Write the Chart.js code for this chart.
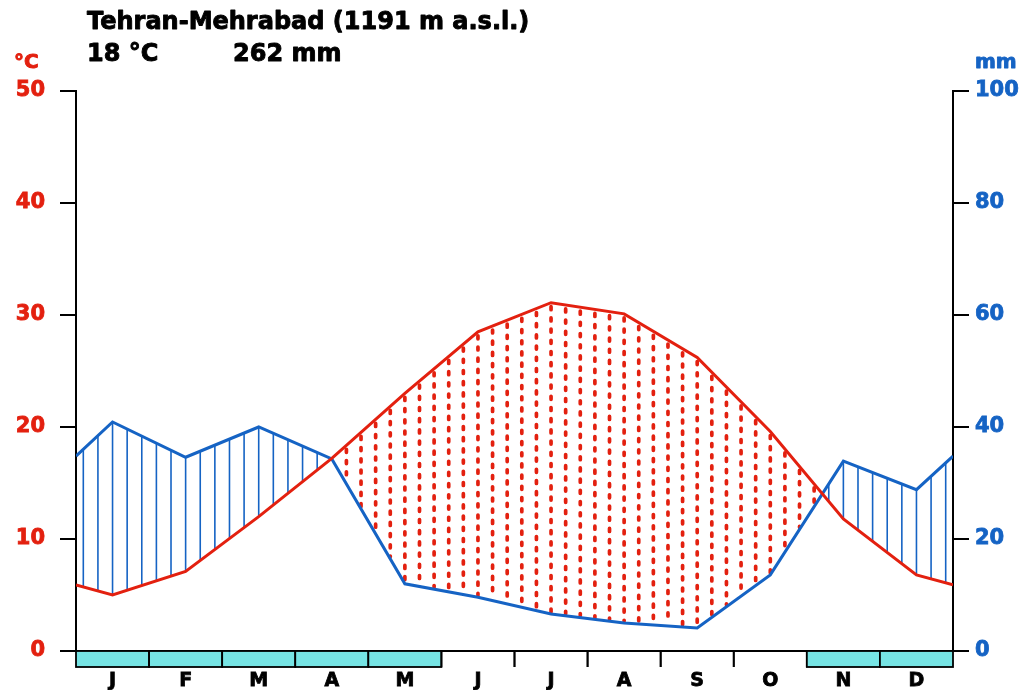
<!DOCTYPE html>
<html>
<head>
<meta charset="utf-8">
<script src="https://cdn.jsdelivr.net/npm/chart.js@4.4.1/dist/chart.umd.min.js"></script>
<style>
  html, body { margin: 0; padding: 0; background: #fff; }
  #wrap { width: 1031px; height: 690px; position: relative; }
</style>
</head>
<body>
<div id="wrap"><canvas id="climate" width="1031" height="690"></canvas></div>
<script>
// Walter–Lieth climate diagram, Tehran-Mehrabad
const months = ['J', 'F', 'M', 'A', 'M', 'J', 'J', 'A', 'S', 'O', 'N', 'D'];
const temperature = [5.0, 7.1, 12.0, 17.2, 23.0, 28.5, 31.1, 30.1, 26.2, 19.6, 11.8, 6.8];   // °C
const precipitation = [40.9, 34.6, 40.0, 34.3, 12.0, 9.6, 6.6, 5.0, 4.1, 13.6, 33.9, 28.8]; // mm
const yearEdgeTemperature = 5.9;    // value at the year boundary (Dec/Jan)
const yearEdgePrecipitation = 34.8;
const frostMonths = [1, 1, 1, 1, 1, 0, 0, 0, 0, 0, 1, 1];
const temperatureTicks = [0, 10, 20, 30, 40, 50];
const precipitationTicks = [0, 20, 40, 60, 80, 100];
const stationName = 'Tehran-Mehrabad (1191 m a.s.l.)';
const meanTemperatureText = '18 °C';
const annualPrecipitationText = '262 mm';

const RED = '#e3200f';
const BLUE = '#1563c4';
const CYAN = '#76e4e4';
const FONT = '"DejaVu Sans", Verdana, sans-serif';

function seriesWithEdges(values, edge) {
  return [{ x: 0, y: edge }]
    .concat(values.map((v, i) => ({ x: i + 0.5, y: v })))
    .concat([{ x: 12, y: edge }]);
}

// y pixel of a polyline at a given x pixel
function lineYAt(points, px) {
  for (let i = 0; i < points.length - 1; i++) {
    const a = points[i], b = points[i + 1];
    if (px >= a.x - 0.01 && px <= b.x + 0.01) {
      const t = (px - a.x) / (b.x - a.x || 1);
      return a.y + t * (b.y - a.y);
    }
  }
  return null;
}

// humid (blue lines) and arid (red dotted lines) hatching between the curves
const hatchPlugin = {
  id: 'hatch',
  beforeDatasetsDraw(chart) {
    const { ctx, scales } = chart;
    const x = scales.x;
    const tPts = chart.getDatasetMeta(0).data;
    const pPts = chart.getDatasetMeta(1).data;
    ctx.save();
    for (let k = 0; k < 60; k++) {
      const px = x.getPixelForValue(0.1 + 0.2 * k);
      const yt = lineYAt(tPts, px);
      const yp = lineYAt(pPts, px);
      if (yt === null || yp === null) continue;
      ctx.beginPath();
      if (yp < yt) {
        ctx.setLineDash([]);
        ctx.lineCap = 'butt';
        ctx.strokeStyle = BLUE;
        ctx.lineWidth = 1.6;
        ctx.moveTo(px, yp);
        ctx.lineTo(px, yt);
      } else {
        if (yp - yt < 6) continue;
        ctx.setLineDash([3, 8.2]);
        ctx.lineCap = 'round';
        ctx.lineDashOffset = -4;
        ctx.strokeStyle = RED;
        ctx.lineWidth = 3.7;
        ctx.moveTo(px, yt);
        ctx.lineTo(px, yp - 2);
      }
      ctx.stroke();
    }
    ctx.restore();
  }
};

// frost-month strip below the plot
const frostPlugin = {
  id: 'frost',
  afterDraw(chart) {
    const { ctx, scales, chartArea } = chart;
    const x = scales.x;
    const top = chartArea.bottom;
    const h = 16;
    ctx.save();
    ctx.lineWidth = 1.8;
    ctx.strokeStyle = '#000';
    months.forEach((m, i) => {
      const x0 = x.getPixelForValue(i);
      const x1 = x.getPixelForValue(i + 1);
      if (frostMonths[i]) {
        ctx.fillStyle = CYAN;
        ctx.fillRect(x0, top, x1 - x0, h);
        ctx.strokeRect(x0, top, x1 - x0, h);
      } else {
        ctx.beginPath();
        ctx.moveTo(x0, top); ctx.lineTo(x0, top + h);
        ctx.moveTo(x1, top); ctx.lineTo(x1, top + h);
        ctx.stroke();
      }
    });
    ctx.restore();
  }
};

// heavy text: fill plus a thin outline of the same colour
function heavyText(ctx, text, x, y, color, stroke) {
  ctx.fillStyle = color;
  ctx.strokeStyle = color;
  ctx.lineWidth = stroke;
  ctx.lineJoin = 'round';
  ctx.strokeText(text, x, y);
  ctx.fillText(text, x, y);
}

// station header and unit labels
const headerPlugin = {
  id: 'header',
  afterDraw(chart) {
    const { ctx, chartArea } = chart;
    ctx.save();
    ctx.textBaseline = 'alphabetic';
    ctx.textAlign = 'left';
    ctx.font = 'bold 24px ' + FONT;
    heavyText(ctx, stationName, 87, 29, '#000', 0.9);
    heavyText(ctx, meanTemperatureText, 87, 61, '#000', 0.9);
    heavyText(ctx, annualPrecipitationText, 233, 61, '#000', 0.9);
    ctx.font = 'bold 20px ' + FONT;
    heavyText(ctx, '°C', 14, 68, RED, 0.9);
    heavyText(ctx, 'mm', chartArea.right + 22, 68, BLUE, 0.9);
    ctx.restore();
  }
};

new Chart(document.getElementById('climate'), {
  type: 'line',
  data: {
    datasets: [
      {
        label: 'Temperature',
        data: seriesWithEdges(temperature, yearEdgeTemperature),
        yAxisID: 'yT',
        borderColor: RED,
        borderWidth: 3,
        pointRadius: 0,
        tension: 0,
        fill: false,
        order: 0
      },
      {
        label: 'Precipitation',
        data: seriesWithEdges(precipitation, yearEdgePrecipitation),
        yAxisID: 'yP',
        borderColor: BLUE,
        borderWidth: 3,
        pointRadius: 0,
        tension: 0,
        fill: false,
        order: 1
      }
    ]
  },
  options: {
    responsive: false,
    devicePixelRatio: 1,
    animation: false,
    events: [],
    layout: { padding: { top: 91, left: 0, right: 0, bottom: 0 } },
    plugins: { legend: { display: false }, title: { display: false }, tooltip: { enabled: false } },
    scales: {
      x: {
        type: 'linear',
        position: 'bottom',
        min: 0,
        max: 12,
        afterFit(s) { s.height = 39; },
        afterBuildTicks(s) { s.ticks = months.map((m, i) => ({ value: i + 0.5 })); },
        ticks: {
          autoSkip: false,
          maxRotation: 0,
          padding: 19,
          color: '#000',
          textStrokeColor: '#000',
          textStrokeWidth: 0.8,
          font: { family: FONT, size: 19, weight: 'bold' },
          callback: (v, i) => months[i]
        },
        grid: { display: false, drawTicks: false },
        border: { display: true, color: '#000', width: 2 }
      },
      yT: {
        type: 'linear',
        position: 'left',
        min: 0,
        max: 50,
        afterFit(s) { s.width = 76; },
        afterBuildTicks(s) { s.ticks = temperatureTicks.map(v => ({ value: v })); },
        ticks: {
          padding: 15,
          color: RED,
          textStrokeColor: RED,
          textStrokeWidth: 0.8,
          font: { family: FONT, size: 21, weight: 'bold' }
        },
        grid: { drawOnChartArea: false, drawTicks: true, tickLength: 16, color: '#000', lineWidth: 2 },
        border: { display: true, color: '#000', width: 2 }
      },
      yP: {
        type: 'linear',
        position: 'right',
        min: 0,
        max: 100,
        afterFit(s) { s.width = 78; },
        afterBuildTicks(s) { s.ticks = precipitationTicks.map(v => ({ value: v })); },
        ticks: {
          padding: 6,
          color: BLUE,
          textStrokeColor: BLUE,
          textStrokeWidth: 0.8,
          font: { family: FONT, size: 21, weight: 'bold' }
        },
        grid: { drawOnChartArea: false, drawTicks: true, tickLength: 16, color: '#000', lineWidth: 2 },
        border: { display: true, color: '#000', width: 2 }
      }
    }
  },
  plugins: [hatchPlugin, frostPlugin, headerPlugin]
});
</script>
</body>
</html>
